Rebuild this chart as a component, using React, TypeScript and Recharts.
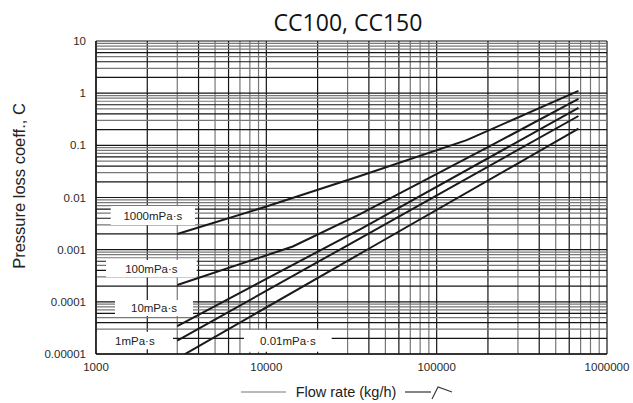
import { LineChart, Line, XAxis, YAxis, ReferenceLine, ReferenceArea } from "recharts";

const flowTicks = [1000, 10000, 100000, 1000000];
const coeffTicks = [0.00001, 0.0001, 0.001, 0.01, 0.1, 1, 10];
const coeffTickLabels = ["0.00001", "0.0001", "0.001", "0.01", "0.1", "1", "10"];

const visc1000 = [
  { q: 3000, c: 0.002 },
  { q: 10000, c: 0.0067 },
  { q: 35500, c: 0.0258 },
  { q: 150000, c: 0.126 },
  { q: 680000, c: 1.11 },
];
const visc100 = [
  { q: 3000, c: 0.00021 },
  { q: 14300, c: 0.00115 },
  { q: 35500, c: 0.0048 },
  { q: 200000, c: 0.092 },
  { q: 680000, c: 0.78 },
];
const visc10 = [
  { q: 3000, c: 0.0000344 },
  { q: 35500, c: 0.00246 },
  { q: 680000, c: 0.52 },
];
const visc1 = [
  { q: 3000, c: 0.000018 },
  { q: 35500, c: 0.00165 },
  { q: 680000, c: 0.365 },
];
const visc001 = [
  { q: 3000, c: 0.0000082 },
  { q: 39700, c: 0.00103 },
  { q: 680000, c: 0.208 },
];

const seriesList = [visc1000, visc100, visc10, visc1, visc001];
const viscNames = ["1000mPa·s", "100mPa·s", "10mPa·s", "1mPa·s", "0.01mPa·s"];
// white label boxes, in data units: [q from, q to, c low, c high]
const labelBoxes = [
  [1220, 3810, 0.00297, 0.00687],
  [1145, 3900, 0.000296, 0.000634],
  [1293, 3712, 0.0000536, 0.000108],
  [1009, 2832, 0.0000123, 0.0000268],
  [7396, 24200, 0.000011, 0.0000288],
];

// log grid: 1..9 in each decade, some lines printed darker than others
const gridSteps = [1, 2, 3, 4, 5, 6, 7, 8, 9];
const darkSteps = [1, 2, 4, 6];
const flowDecades = [1000, 10000, 100000];
const coeffDecades = [0.00001, 0.0001, 0.001, 0.01, 0.1, 1];

const font = "'Liberation Sans', Arial, sans-serif";
const ink = "#1a1a1a";

function gridLines(decades: number[], last: number) {
  const out: { v: number; dark: boolean }[] = [];
  decades.forEach((d) => gridSteps.forEach((s) => out.push({ v: +(d * s).toPrecision(3), dark: darkSteps.includes(s) })));
  out.push({ v: last, dark: true });
  return out;
}

const xGrid = gridLines(flowDecades, 1000000);
const yGrid = gridLines(coeffDecades, 10);

function FlowLabel({ viewBox }: any) {
  const cx = viewBox.x + 250;
  const y = viewBox.y + 38;
  return (
    <g>
      <line x1={cx - 105} y1={y} x2={cx - 60} y2={y} stroke="#777" strokeWidth={1.2} />
      <text x={cx} y={y + 5} textAnchor="middle" fontSize={14.5} fill="#222" fontFamily={font}>
        Flow rate (kg/h)
      </text>
      <line x1={cx + 59} y1={y} x2={cx + 85} y2={y} stroke="#333" strokeWidth={1.2} />
      <polyline points={`${cx + 86},${y + 7} ${cx + 92},${y - 5} ${cx + 106},${y}`} fill="none" stroke="#333" strokeWidth={1.1} />
    </g>
  );
}

function CoeffLabel({ viewBox }: any) {
  const x = viewBox.x + 25;
  const y = viewBox.y + 145;
  return (
    <text x={x} y={y} transform={`rotate(-90, ${x}, ${y})`} textAnchor="middle" fontSize={16.5} fill="#222" fontFamily={font}>
      Pressure loss coeff., C
    </text>
  );
}

export default function App() {
  return (
    <div style={{ position: "absolute", left: 0, top: 0, width: 633, height: 403, background: "#fff" }}>
      <div
        style={{
          position: "absolute",
          left: 248,
          top: 11,
          width: 200,
          textAlign: "center",
          fontFamily: "'Open Sans', sans-serif",
          fontSize: 23,
          lineHeight: "23px",
          color: "#111",
        }}
      >
        CC100, CC150
      </div>
      <LineChart width={633} height={403} margin={{ top: 41, right: 26, bottom: 0, left: 0 }}>
        <XAxis
          type="number"
          dataKey="q"
          scale="log"
          domain={[1000, 1000000]}
          ticks={flowTicks}
          allowDataOverflow
          height={49}
          axisLine={{ stroke: ink, strokeWidth: 1.5 }}
          tickLine={false}
          tickSize={0}
          tickMargin={9}
          tick={{ fontSize: 11.5, fill: "#2a2a2a", fontFamily: font }}
          label={FlowLabel}
        />
        <YAxis
          type="number"
          dataKey="c"
          scale="log"
          domain={[0.00001, 10]}
          ticks={coeffTicks}
          allowDataOverflow
          width={96}
          axisLine={{ stroke: ink, strokeWidth: 1.5 }}
          tickLine={false}
          tickSize={0}
          tickMargin={10}
          tickFormatter={(v: number) => coeffTickLabels[coeffTicks.indexOf(v)] ?? String(v)}
          tick={{ fontSize: 11.5, fill: "#2a2a2a", fontFamily: font }}
          label={CoeffLabel}
        />
        {xGrid.map((g) => (
          <ReferenceLine key={"x" + g.v} x={g.v} zIndex={-50} ifOverflow="visible" stroke={g.dark ? "#151515" : "#777"} strokeWidth={1.2} />
        ))}
        {yGrid.map((g) => (
          <ReferenceLine key={"y" + g.v} y={g.v} zIndex={-50} ifOverflow="visible" stroke={g.dark ? "#151515" : "#777"} strokeWidth={1.2} />
        ))}
        {labelBoxes.map((b, i) => (
          <ReferenceArea
            key={viscNames[i]}
            x1={b[0]}
            x2={b[1]}
            y1={b[2]}
            y2={b[3]}
            zIndex={100}
            fill="#fff"
            fillOpacity={1}
            stroke="none"
            ifOverflow="visible"
            label={{ value: viscNames[i], position: "center", fontSize: 11.5, fill: "#222", fontFamily: font }}
          />
        ))}
        {seriesList.map((s, i) => (
          <Line
            key={viscNames[i]}
            data={s}
            dataKey="c"
            type="linear"
            stroke={ink}
            strokeWidth={2}
            dot={false}
            activeDot={false}
            isAnimationActive={false}
          />
        ))}
      </LineChart>
    </div>
  );
}
